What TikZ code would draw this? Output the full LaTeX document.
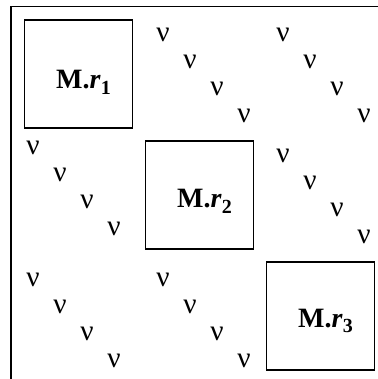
\documentclass[tikz,border=0pt]{standalone}
\usepackage{fontspec}
\setmainfont{Liberation Serif}
\usetikzlibrary{positioning}
\newcommand{\mrlabel}[1]{\textbf{M.\textit{r}}\raisebox{-0.45ex}{\fontsize{15pt}{15pt}\selectfont\bfseries #1}}

\begin{document}
\begin{tikzpicture}[x=0.75pt,y=-0.75pt,
  box/.style={draw,line width=0.8pt,minimum size=81pt,inner sep=0pt},
  lbl/.style={inner sep=0pt,font=\fontsize{21pt}{22pt}\selectfont},
  nu/.style={inner sep=0pt,font=\fontsize{22pt}{22pt}\selectfont}]
\useasboundingbox (0,0) rectangle (378,379);
\draw[line width=1pt] (11,379) |- (378,6.5);
\node[box] (r1) at (78.5,74) {};
\node[box] (r2) at (199.5,195) {};
\node[box] (r3) at (320.5,316) {};
\node[lbl] (l1) at ([shift={(5,8)}]r1.center) {\mrlabel{1}};
\node[lbl] (l2) at ([shift={(5,6)}]r2.center) {\mrlabel{2}};
\node[lbl] (l3) at ([shift={(5,5)}]r3.center) {\mrlabel{3}};
\foreach \g/\x/\y in {a/163/35, b/283/35, c/33/148, d/283/156, e/33/280, f/163/280}
  \foreach \k in {0,...,3}
    \node[nu] (nu-\g\k) at (\x+27*\k,\y+27*\k) {ν};
\end{tikzpicture}
\end{document}
